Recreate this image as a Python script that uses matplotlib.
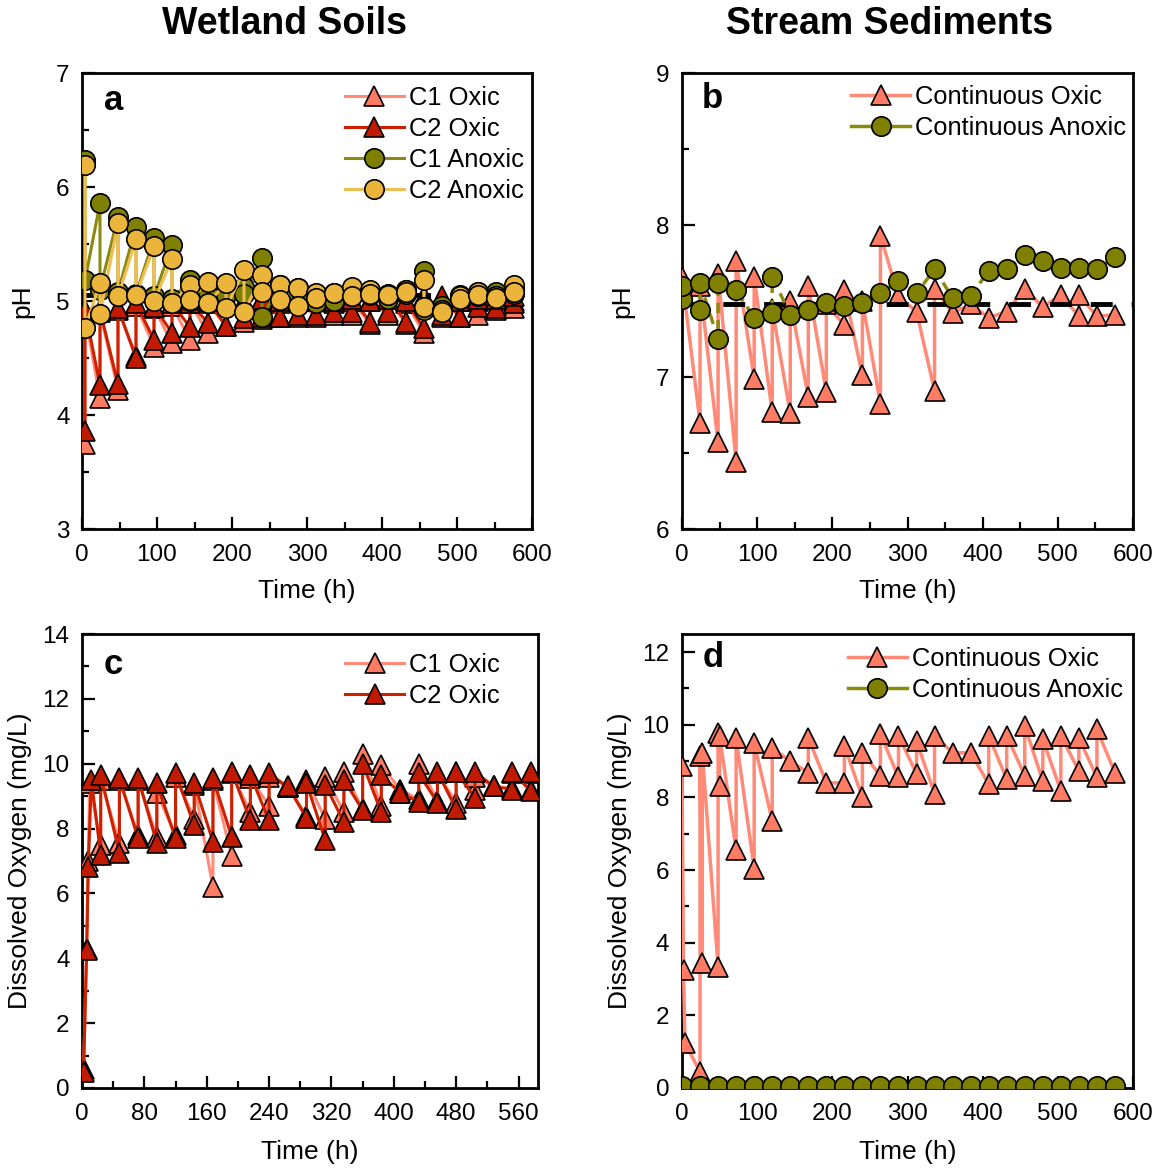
import matplotlib
matplotlib.use("Agg")
import matplotlib.pyplot as plt
from matplotlib.lines import Line2D
from matplotlib.ticker import MultipleLocator

plt.rcParams['font.family'] = ['Liberation Sans', 'DejaVu Sans']

# ---------------- data ----------------
# Wetland soils pH: for each sampling time the value before and after medium exchange
a_time = [4, 24, 48, 72, 96, 120, 144, 168, 192, 216, 240, 264, 288, 312, 336,
          360, 384, 408, 432, 456, 480, 504, 528, 552, 576]
c1_oxic_before = [3.75, 4.15, 4.22, 4.52, 4.60, 4.63, 4.66, 4.72, 4.78, 4.82, 4.84, 4.86, 4.86,
                  4.86, 4.88, 4.88, 4.80, 4.88, 4.80, 4.72, 4.86, 4.86, 4.88, 4.92, 4.94]
c1_oxic_after = [4.88, 4.90, 4.92, 4.96, 4.94, 4.96, 4.98, 4.98, 5.00, 4.98, 5.00, 4.98, 5.00,
                 5.00, 4.98, 5.00, 5.00, 5.02, 4.98, 5.00, 5.00, 5.00, 5.00, 5.02, 5.00]
c2_oxic_before = [3.86, 4.26, 4.27, 4.50, 4.66, 4.72, 4.77, 4.81, 4.78, 4.85, 4.86, 4.86, 4.88,
                  4.88, 4.90, 4.90, 4.82, 4.90, 4.82, 4.76, 4.88, 4.86, 4.95, 4.94, 4.98]
c2_oxic_after = [4.92, 4.92, 4.94, 4.98, 4.95, 4.98, 4.98, 5.00, 5.00, 5.00, 5.02, 5.00, 5.02,
                 5.00, 5.00, 5.02, 5.00, 5.02, 5.00, 5.04, 5.04, 5.00, 5.02, 5.02, 5.04]
c1_anoxic_before = [6.24, 5.86, 5.74, 5.65, 5.55, 5.49, 5.18, 5.10, 5.12, 5.12, 5.38, 5.14, 5.11,
                    5.06, 5.00, 5.10, 5.08, 5.06, 5.10, 5.26, 4.96, 5.05, 5.08, 5.08, 5.12]
c1_anoxic_after = [5.18, 5.10, 5.08, 5.06, 5.04, 5.02, 5.00, 5.08, 5.05, 5.06, 4.86, 5.05, 5.05,
                   4.98, 5.00, 5.04, 5.05, 5.02, 5.06, 4.92, 4.92, 5.02, 5.04, 5.04, 5.06]
c2_anoxic_before = [6.19, 5.16, 5.68, 5.54, 5.48, 5.37, 5.14, 5.17, 5.16, 5.27, 5.23, 5.14, 5.11,
                    5.07, 5.07, 5.12, 5.10, 5.05, 5.10, 5.18, 4.92, 5.04, 5.08, 5.04, 5.14]
c2_anoxic_after = [4.76, 4.89, 5.04, 5.05, 5.00, 4.98, 5.01, 4.98, 4.94, 4.90, 5.08, 5.01, 4.96,
                   5.03, 5.07, 5.04, 5.06, 5.05, 5.08, 4.95, 4.90, 5.02, 5.05, 5.03, 5.08]
a_ref_ph = 5.05

# Stream sediments pH (measurement order)
b_oxic_time = [0, 24, 24, 48, 48, 72, 72, 96, 96, 120, 120, 144, 144, 168, 168, 192, 192,
               216, 216, 240, 240, 264, 264, 288, 312, 336, 336, 360, 384, 408, 432, 456,
               480, 504, 528, 528, 552, 576]
b_oxic_ph = [7.66, 6.70, 7.60, 6.57, 7.68, 6.44, 7.76, 6.99, 7.66, 6.77, 7.45, 6.76, 7.50,
             6.87, 7.60, 6.90, 7.48, 7.34, 7.57, 7.01, 7.50, 6.82, 7.93, 7.53, 7.43, 6.91,
             7.58, 7.42, 7.48, 7.39, 7.43, 7.58, 7.46, 7.54, 7.40, 7.54, 7.40, 7.41]
b_anoxic_time = [0, 0, 24, 24, 48, 48, 72, 96, 120, 120, 144, 168, 192, 216, 240, 264, 288,
                 312, 336, 360, 384, 408, 432, 456, 480, 504, 528, 552, 576]
b_anoxic_ph = [7.51, 7.60, 7.44, 7.62, 7.25, 7.62, 7.57, 7.39, 7.42, 7.66, 7.41, 7.44, 7.49,
               7.47, 7.49, 7.55, 7.63, 7.55, 7.71, 7.52, 7.53, 7.70, 7.71, 7.80, 7.76, 7.72,
               7.72, 7.71, 7.79]
b_ref_ph = 7.48

# Wetland soils dissolved oxygen
c_time = [24, 48, 72, 96, 120, 144, 168, 192, 216, 240, 264, 288, 312, 336, 360, 384,
          408, 432, 456, 480, 504, 528, 552, 576]
c1_start_time = [2, 6, 8, 10]
c1_start_do = [0.60, 4.30, 7.00, 9.40]
c2_start_time = [2, 6, 8, 12]
c2_start_do = [0.50, 4.25, 6.80, 9.50]
c1_do_before = [7.50, 7.55, 7.80, 7.75, 7.80, 8.30, 6.20, 7.15, 8.50, 8.70, 9.28, 8.40,
                8.30, 8.50, 8.60, 8.70, 9.20, 8.90, 8.85, 8.80, 9.20, 9.30, 9.25, 9.20]
c1_do_after = [9.50, 9.50, 9.50, 9.10, 9.60, 9.35, 9.50, 9.70, 9.55, 9.60, 9.30, 9.50,
               9.60, 9.75, 10.30, 9.95, 9.20, 10.00, 9.70, 9.75, 9.60, 9.30, 9.70, 9.70]
c2_do_before = [7.20, 7.25, 7.70, 7.55, 7.70, 8.10, 7.60, 7.75, 8.25, 8.25, 9.28, 8.33,
                7.65, 8.20, 8.57, 8.50, 9.10, 8.83, 8.80, 8.60, 8.95, 9.30, 9.20, 9.15]
c2_do_after = [9.65, 9.55, 9.55, 9.40, 9.70, 9.40, 9.55, 9.75, 9.65, 9.70, 9.30, 9.40,
               9.35, 9.50, 10.00, 9.65, 9.10, 9.70, 9.75, 9.75, 9.75, 9.30, 9.75, 9.75]

# Stream sediments dissolved oxygen (measurement order)
d_oxic_time = [0, 2, 4, 24, 24, 27, 27, 48, 48, 50, 50, 72, 72, 96, 96, 120, 120, 144,
               168, 168, 192, 216, 216, 240, 240, 264, 264, 288, 288, 312, 312, 336, 336,
               360, 384, 408, 408, 432, 432, 456, 456, 480, 480, 504, 504, 528, 528,
               552, 552, 576]
d_oxic_do = [8.87, 3.24, 1.24, 0.44, 9.15, 3.43, 9.23, 3.33, 9.78, 8.32, 9.70, 6.54, 9.64,
             6.04, 9.50, 7.36, 9.36, 9.00, 8.68, 9.64, 8.40, 8.40, 9.42, 8.00, 9.23, 8.60,
             9.75, 8.55, 9.70, 8.65, 9.55, 8.10, 9.70, 9.23, 9.23, 8.37, 9.70, 8.50, 9.70,
             8.60, 9.97, 8.45, 9.60, 8.18, 9.70, 8.73, 9.64, 8.55, 9.88, 8.68]
d_anoxic_time = [0, 24, 48, 72, 96, 120, 144, 168, 192, 216, 240, 264, 288, 312, 336,
                 360, 384, 408, 432, 456, 480, 504, 528, 552, 576]
d_anoxic_do = [0.05] * 25

# ---------------- styles ----------------
SALMON = '#FF7B63'
SALMON_LINE = '#FF8A78'
DARKRED = '#C21A00'
DARKRED_LINE = '#CC2000'
OLIVE = '#808000'
OLIVE_LINE = '#8A8A10'
GOLD = '#EBB53C'
GOLD_LINE = '#F0BE50'

TICK_FS = 17.5
LABEL_FS = 19
LEGEND_FS = 18.4
LETTER_FS = 25
TITLE_FS = 27


def interleave(first, second):
    out = []
    for u, v in zip(first, second):
        out += [u, v]
    return out


def tri_style(face, line, lw=2.2):
    return dict(marker='^', ms=14, mfc=face, mec='black', mew=1.2, color=line, lw=lw)


def circ_style(face, line, lw=2.2):
    return dict(marker='o', ms=14, mfc=face, mec='black', mew=1.2, color=line, lw=lw)


def style_axes(ax, xlim, xmaj, xmin, ylim, ymaj, ymin):
    ax.set_xlim(*xlim)
    ax.set_ylim(*ylim)
    ax.xaxis.set_major_locator(MultipleLocator(xmaj))
    ax.xaxis.set_minor_locator(MultipleLocator(xmin))
    ax.yaxis.set_major_locator(MultipleLocator(ymaj))
    ax.yaxis.set_minor_locator(MultipleLocator(ymin))
    ax.tick_params(which='both', direction='in', top=False, right=False, width=1.6,
                   labelsize=TICK_FS)
    ax.tick_params(axis='x', pad=11)
    ax.tick_params(axis='y', pad=9)
    ax.tick_params(which='major', length=9)
    ax.tick_params(which='minor', length=5)
    for s in ax.spines.values():
        s.set_linewidth(2.0)


def label_axes(ax, xlabel, ylabel, xl_y, yl_x, letter, lx, ly):
    ax.set_xlabel(xlabel, fontsize=LABEL_FS, va='center')
    ax.xaxis.set_label_coords(0.5, xl_y)
    ax.set_ylabel(ylabel, fontsize=LABEL_FS, va='center')
    ax.yaxis.set_label_coords(yl_x, 0.5)
    ax.text(lx, ly, letter, transform=ax.transAxes, fontsize=LETTER_FS, fontweight='bold',
            ha='center', va='center')


def add_legend(ax, handles, labels, anchor):
    ax.legend(handles, labels, loc='upper left', frameon=False, fontsize=LEGEND_FS,
              handlelength=2.3, handletextpad=0.2, labelspacing=0.27,
              borderpad=0.0, borderaxespad=0.0, bbox_to_anchor=anchor)


W, H = 1161, 1169
fig = plt.figure(figsize=(W / 100, H / 100), dpi=100)
fig.patch.set_facecolor('white')


def px_axes(left, top, right, bottom):
    return fig.add_axes([left / W, 1 - bottom / H, (right - left) / W, (bottom - top) / H])


ax_a = px_axes(82, 73, 532, 529)
ax_b = px_axes(682, 73, 1133, 529)
ax_c = px_axes(82, 634, 538, 1088)
ax_d = px_axes(682, 634, 1133, 1088)

dash = (0, (4.5, 3.9))

# ---- panel a ----
t2 = interleave(a_time, a_time)
ax_a.plot(t2, interleave(c1_oxic_before, c1_oxic_after), **tri_style(SALMON, SALMON_LINE), zorder=3)
ax_a.plot(t2, interleave(c2_oxic_before, c2_oxic_after), **tri_style(DARKRED, DARKRED_LINE), zorder=3)
ax_a.axhline(a_ref_ph, color='black', lw=3.5, ls=dash, zorder=3.5)
ax_a.plot(t2, interleave(c1_anoxic_before, c1_anoxic_after), **circ_style(OLIVE, OLIVE_LINE), zorder=4)
ax_a.plot(t2, interleave(c2_anoxic_before, c2_anoxic_after), **circ_style(GOLD, GOLD_LINE), zorder=4)
style_axes(ax_a, (0, 600), 100, 50, (3, 7), 1, 0.5)
label_axes(ax_a, 'Time (h)', 'pH', -0.136, -0.133, 'a', 0.071, 0.94)
handles_a = [Line2D([], [], **tri_style(SALMON, SALMON_LINE)),
             Line2D([], [], **tri_style(DARKRED, DARKRED_LINE)),
             Line2D([], [], **circ_style(OLIVE, OLIVE_LINE)),
             Line2D([], [], **circ_style(GOLD, GOLD_LINE))]
add_legend(ax_a, handles_a, ['C1 Oxic', 'C2 Oxic', 'C1 Anoxic', 'C2 Anoxic'], (0.584, 0.9715))

# ---- panel b ----
ax_b.plot(b_oxic_time, b_oxic_ph, **tri_style(SALMON, SALMON_LINE, 2.5), zorder=3)
ax_b.axhline(b_ref_ph, color='black', lw=3.5, ls=dash, zorder=3.5)
ax_b.plot(b_anoxic_time, b_anoxic_ph, **circ_style(OLIVE, OLIVE_LINE, 2.5), ls=(0, (3, 2)), zorder=4)
style_axes(ax_b, (0, 600), 100, 50, (6, 9), 1, 0.5)
label_axes(ax_b, 'Time (h)', 'pH', -0.136, -0.133, 'b', 0.067, 0.943)
handles_b = [Line2D([], [], **tri_style(SALMON, SALMON_LINE, 2.5)),
             Line2D([], [], **circ_style(OLIVE, OLIVE_LINE, 2.5))]
add_legend(ax_b, handles_b, ['Continuous Oxic', 'Continuous Anoxic'], (0.375, 0.9737))

# ---- panel c ----
c1_t = c1_start_time + interleave(c_time, c_time)
c2_t = c2_start_time + interleave(c_time, c_time)
ax_c.plot(c1_t, c1_start_do + interleave(c1_do_before, c1_do_after),
          **tri_style(SALMON, SALMON_LINE), zorder=3)
ax_c.plot(c2_t, c2_start_do + interleave(c2_do_before, c2_do_after),
          **tri_style(DARKRED, DARKRED_LINE), zorder=3)
style_axes(ax_c, (0, 585), 80, 40, (0, 14), 2, 1)
label_axes(ax_c, 'Time (h)', 'Dissolved Oxygen (mg/L)', -0.141, -0.136, 'c', 0.068, 0.932)
add_legend(ax_c, handles_a[:2], ['C1 Oxic', 'C2 Oxic'], (0.577, 0.958))

# ---- panel d ----
ax_d.plot(d_oxic_time, d_oxic_do, **tri_style(SALMON, SALMON_LINE, 2.5), zorder=3)
ax_d.plot(d_anoxic_time, d_anoxic_do, **circ_style(OLIVE, OLIVE_LINE, 2.5), zorder=4)
style_axes(ax_d, (0, 600), 100, 50, (0, 12.5), 2, 1)
label_axes(ax_d, 'Time (h)', 'Dissolved Oxygen (mg/L)', -0.141, -0.137, 'd', 0.069, 0.949)
add_legend(ax_d, handles_b, ['Continuous Oxic', 'Continuous Anoxic'], (0.368, 0.971))

# column headings
fig.text(285 / W, 1 - 24 / H, 'Wetland Soils', fontsize=TITLE_FS, fontweight='bold',
         ha='center', va='center')
fig.text(890 / W, 1 - 24 / H, 'Stream Sediments', fontsize=TITLE_FS, fontweight='bold',
         ha='center', va='center')

fig.savefig('out.png', dpi=100, facecolor='white')
